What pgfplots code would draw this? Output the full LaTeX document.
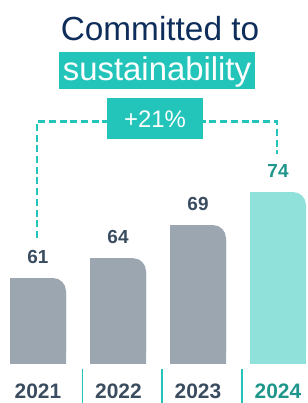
\documentclass[border=0pt]{standalone}
\usepackage{pgfplots}
\usepackage{pgfplotstable}
\pgfplotsset{compat=1.18}
\usepackage{fontspec}
\setmainfont{Liberation Sans}
\definecolor{greybar}{HTML}{9CA6B0}
\definecolor{tealbar}{HTML}{90E1DA}
\definecolor{teal1}{HTML}{23C4BA}
\definecolor{slate}{HTML}{3A4C5F}
\definecolor{tealdark}{HTML}{1F968B}
\definecolor{navy}{HTML}{0E2D5B}
\pgfplotstableread{
x v
0 61
1 64
2 69
}\past
\pgfplotstableread{
x v
3 74
}\current
\begin{document}
\begin{tikzpicture}[x=1bp,y=1bp]
\useasboundingbox (0,0) rectangle (308,403);
\begin{axis}[
  at={(0bp,39bp)}, anchor=south west,
  width=308bp, height=364bp, scale only axis,
  xmin=-0.475, xmax=3.375, ymin=48, ymax=103.03,
  axis lines=none,
  xtick=\empty, ytick=\empty,
  clip=true,
  /pgf/number format/assume math mode=true,
]
% grey bars: rounded shape + sharp fill-ins for the other three corners
\addplot[ybar, bar width=56bp, bar shift=0pt, fill=greybar, draw=none, rounded corners=13bp,
  nodes near coords={\fontsize{19}{19}\selectfont\bfseries\pgfmathprintnumber{\pgfplotspointmeta}},
  every node near coord/.append style={anchor=south, inner sep=0pt, yshift=14bp, text=slate}]
  table[x=x, y=v] {\past};
\addplot[ybar, bar width=43bp, bar shift=-6.5bp, fill=greybar, draw=none]
  table[x=x, y=v] {\past};
\addplot[ybar, bar width=56bp, bar shift=0pt, fill=greybar, draw=none]
  table[x=x, y expr=\thisrow{v}-2.2] {\past};
% 2024 bar
\addplot[ybar, bar width=56bp, bar shift=0pt, fill=tealbar, draw=none, rounded corners=13bp,
  nodes near coords={\fontsize{19}{19}\selectfont\bfseries\pgfmathprintnumber{\pgfplotspointmeta}},
  every node near coord/.append style={anchor=south, inner sep=0pt, yshift=14bp, text=tealdark}]
  table[x=x, y=v] {\current};
\addplot[ybar, bar width=43bp, bar shift=-6.5bp, fill=tealbar, draw=none]
  table[x=x, y=v] {\current};
\addplot[ybar, bar width=56bp, bar shift=0pt, fill=tealbar, draw=none]
  table[x=x, y expr=\thisrow{v}-2.2] {\current};
\end{axis}
% year labels
\foreach \xx/\yy/\cc in {38/2021/slate,118.5/2022/slate,198/2023/slate,278/2024/tealdark}{
  \node[anchor=base, inner sep=0pt, text=\cc, font=\fontsize{21}{21}\selectfont\bfseries] at (\xx,5) {\yy};
}
% separators
\foreach \xx in {82.5,162,242}{
  \draw[teal1, line width=1.6bp] (\xx,0) -- (\xx,34);
}
% dashed bracket
\draw[teal1, line width=2.3bp, dash pattern=on 7bp off 3.7bp] (37,165) -- (37,281.5) -- (277,281.5) -- (277,249);
% +21% box
\fill[teal1] (107,264) rectangle (203,305);
\node[anchor=base, inner sep=0pt, text=white, font=\fontsize{24}{24}\selectfont] at (155,276) {+21\%};
% title
\node[anchor=base, inner sep=0pt, text=navy, font=\fontsize{33.5}{33.5}\selectfont] at (160,363) {Committed to};
\fill[teal1] (59,314) rectangle (255,351);
\node[anchor=base, inner sep=0pt, text=white, font=\fontsize{33}{33}\selectfont] at (157,323) {sustainability};
\end{tikzpicture}
\end{document}
